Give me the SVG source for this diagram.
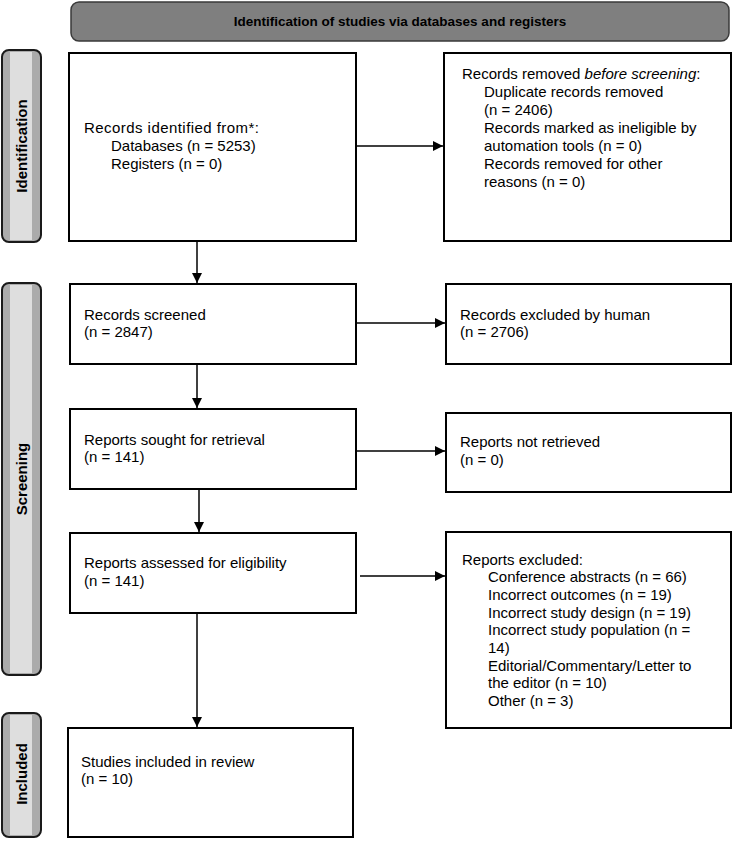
<svg xmlns="http://www.w3.org/2000/svg" width="734" height="842" viewBox="0 0 734 842">
<defs>
<style>
.box{fill:#fff;stroke:#000;stroke-width:2}
.t{font-family:"Liberation Sans",Arial,sans-serif;font-size:15px;fill:#000}
.side{fill:#ababab;stroke:#1a1a1a;stroke-width:2}
.stripe{fill:#dedede}
.st{font-family:"Liberation Sans",Arial,sans-serif;font-size:15px;font-weight:bold;fill:#000}
.ln{stroke:#000;stroke-width:1.5;fill:none}
</style>
<marker id="ah" viewBox="0 0 10 10" refX="10" refY="5" markerWidth="10" markerHeight="10" markerUnits="userSpaceOnUse" orient="auto">
<path d="M0,0 L10,5 L0,10 Z" fill="#000"/>
</marker>
</defs>
<rect width="734" height="842" fill="#fff"/>

<g id="header">
<rect x="71" y="2" width="658" height="39" rx="8" fill="#7f7f7f" stroke="#3a3a3a" stroke-width="1.5"/>
<text x="400" y="26" text-anchor="middle" font-family="Liberation Sans, Arial, sans-serif" font-size="13.5" font-weight="bold">Identification of studies via databases and registers</text>
</g>

<g id="label-identification">
<rect class="side" x="2" y="50" width="39" height="192" rx="7"/>
<rect class="stripe" x="10" y="52" width="22" height="188"/>
<text class="st" transform="translate(27,146) rotate(-90)" text-anchor="middle">Identification</text>
</g>
<g id="label-screening">
<rect class="side" x="2" y="283" width="39" height="392" rx="7"/>
<rect class="stripe" x="10" y="285" width="22" height="388"/>
<text class="st" transform="translate(27,479) rotate(-90)" text-anchor="middle">Screening</text>
</g>
<g id="label-included">
<rect class="side" x="2" y="713" width="39" height="124" rx="7"/>
<rect class="stripe" x="10" y="715" width="22" height="120"/>
<text class="st" transform="translate(27,774) rotate(-90)" text-anchor="middle">Included</text>
</g>

<g id="records-identified">
<rect class="box" x="69" y="53" width="287" height="188"/>
<text class="t" x="84" y="133" textLength="175" lengthAdjust="spacing">Records identified from*:</text>
<text class="t" x="111" y="151">Databases (n = 5253)</text>
<text class="t" x="111" y="169">Registers (n = 0)</text>
</g>

<g id="records-removed">
<rect class="box" x="444" y="53" width="287" height="188"/>
<text class="t" x="462" y="79">Records removed <tspan font-style="italic">before screening</tspan>:</text>
<text class="t" x="484" y="97">Duplicate records removed</text>
<text class="t" x="484" y="115">(n = 2406)</text>
<text class="t" x="484" y="133">Records marked as ineligible by</text>
<text class="t" x="484" y="151">automation tools (n = 0)</text>
<text class="t" x="484" y="169">Records removed for other</text>
<text class="t" x="484" y="187">reasons (n = 0)</text>
</g>

<g id="records-screened">
<rect class="box" x="70" y="284" width="286" height="80"/>
<text class="t" x="84" y="320">Records screened</text>
<text class="t" x="84" y="337">(n = 2847)</text>
</g>

<g id="records-excluded">
<rect class="box" x="446" y="284" width="285" height="80"/>
<text class="t" x="460" y="320">Records excluded by human</text>
<text class="t" x="460" y="337">(n = 2706)</text>
</g>

<g id="reports-sought">
<rect class="box" x="70" y="409" width="286" height="80"/>
<text class="t" x="84" y="445">Reports sought for retrieval</text>
<text class="t" x="84" y="462">(n = 141)</text>
</g>

<g id="reports-not-retrieved">
<rect class="box" x="446" y="413" width="285" height="79"/>
<text class="t" x="460" y="447">Reports not retrieved</text>
<text class="t" x="460" y="465">(n = 0)</text>
</g>

<g id="reports-assessed">
<rect class="box" x="70" y="533" width="286" height="80"/>
<text class="t" x="84" y="568">Reports assessed for eligibility</text>
<text class="t" x="84" y="586">(n = 141)</text>
</g>

<g id="reports-excluded">
<rect class="box" x="446" y="532" width="285" height="196"/>
<text class="t" x="462" y="565">Reports excluded:</text>
<text class="t" x="488" y="582">Conference abstracts (n = 66)</text>
<text class="t" x="488" y="600">Incorrect outcomes (n = 19)</text>
<text class="t" x="488" y="617.5">Incorrect study design (n = 19)</text>
<text class="t" x="488" y="635">Incorrect study population (n =</text>
<text class="t" x="488" y="653">14)</text>
<text class="t" x="488" y="670.5">Editorial/Commentary/Letter to</text>
<text class="t" x="488" y="688">the editor (n = 10)</text>
<text class="t" x="488" y="706">Other (n = 3)</text>
</g>

<g id="studies-included">
<rect class="box" x="68" y="728" width="285" height="109"/>
<text class="t" x="81" y="767">Studies included in review</text>
<text class="t" x="81" y="784">(n = 10)</text>
</g>

<g id="connectors">
<line class="ln" x1="356" y1="146" x2="443" y2="146" marker-end="url(#ah)"/>
<line class="ln" x1="197" y1="241" x2="197" y2="283" marker-end="url(#ah)"/>
<line class="ln" x1="356" y1="323" x2="445" y2="323" marker-end="url(#ah)"/>
<line class="ln" x1="197" y1="364" x2="197" y2="408" marker-end="url(#ah)"/>
<line class="ln" x1="357" y1="451" x2="445" y2="451" marker-end="url(#ah)"/>
<line class="ln" x1="199" y1="489" x2="199" y2="532" marker-end="url(#ah)"/>
<line class="ln" x1="360" y1="576" x2="445" y2="576" marker-end="url(#ah)"/>
<line class="ln" x1="197" y1="613" x2="197" y2="727" marker-end="url(#ah)"/>
</g>
</svg>
